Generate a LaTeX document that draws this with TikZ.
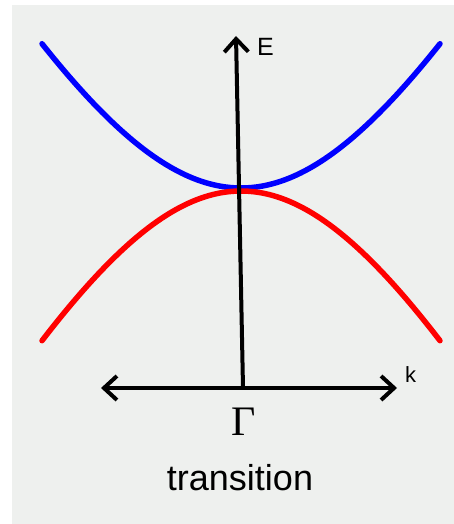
\documentclass[tikz,border=0pt]{standalone}
\usepackage{fontspec}
\setmainfont{Liberation Sans}
\newfontfamily\gammafont{Liberation Serif}
\usetikzlibrary{arrows.meta}
\definecolor{bggray}{RGB}{238,240,238}
\begin{document}
\begin{tikzpicture}[x=1pt,y=-1pt,
  axis/.style={line width=4pt,black},
  band/.style={line width=5.5pt,line cap=round},
  lbl/.style={inner sep=0pt,anchor=base}]
\useasboundingbox (0,0) rectangle (454,524);
\fill[white] (0,0) rectangle (454,524);
\fill[bggray] (12,5) rectangle (454,524);
% bands
\draw[band,blue] plot[domain=-199:199,samples=101]
  ({241+\x},{188-10*(sqrt(1600+3.44*(\x/10)^2)-40)});
\draw[band,red] plot[domain=-199:199,samples=101]
  ({241+\x},{191+10*(sqrt(1600+3.59*(\x/10)^2)-40)});
% axes
\coordinate (origin) at (243,388);
\coordinate (etop) at (236,36);
\coordinate (kleft) at (101,388);
\coordinate (kright) at (397,388);
\draw[axis,-{Straight Barb[length=13pt,width=24pt]}] (origin) -- (etop);
\draw[axis,{Straight Barb[length=13pt,width=24pt]}-{Straight Barb[length=13pt,width=24pt]}] (kleft) -- (kright);
% labels
\node[lbl,anchor=base west,font=\fontsize{25}{30}\selectfont] (E) at (257,56) {E};
\node[lbl,anchor=base west,font=\fontsize{22}{26}\selectfont] (k) at (405,382) {k};
\node[lbl,font=\gammafont\fontsize{42}{48}\selectfont] (G) at (244,435) {Γ};
\node[lbl,font=\fontsize{36}{42}\selectfont] (T) at (240,490) {transition};
\end{tikzpicture}
\end{document}
